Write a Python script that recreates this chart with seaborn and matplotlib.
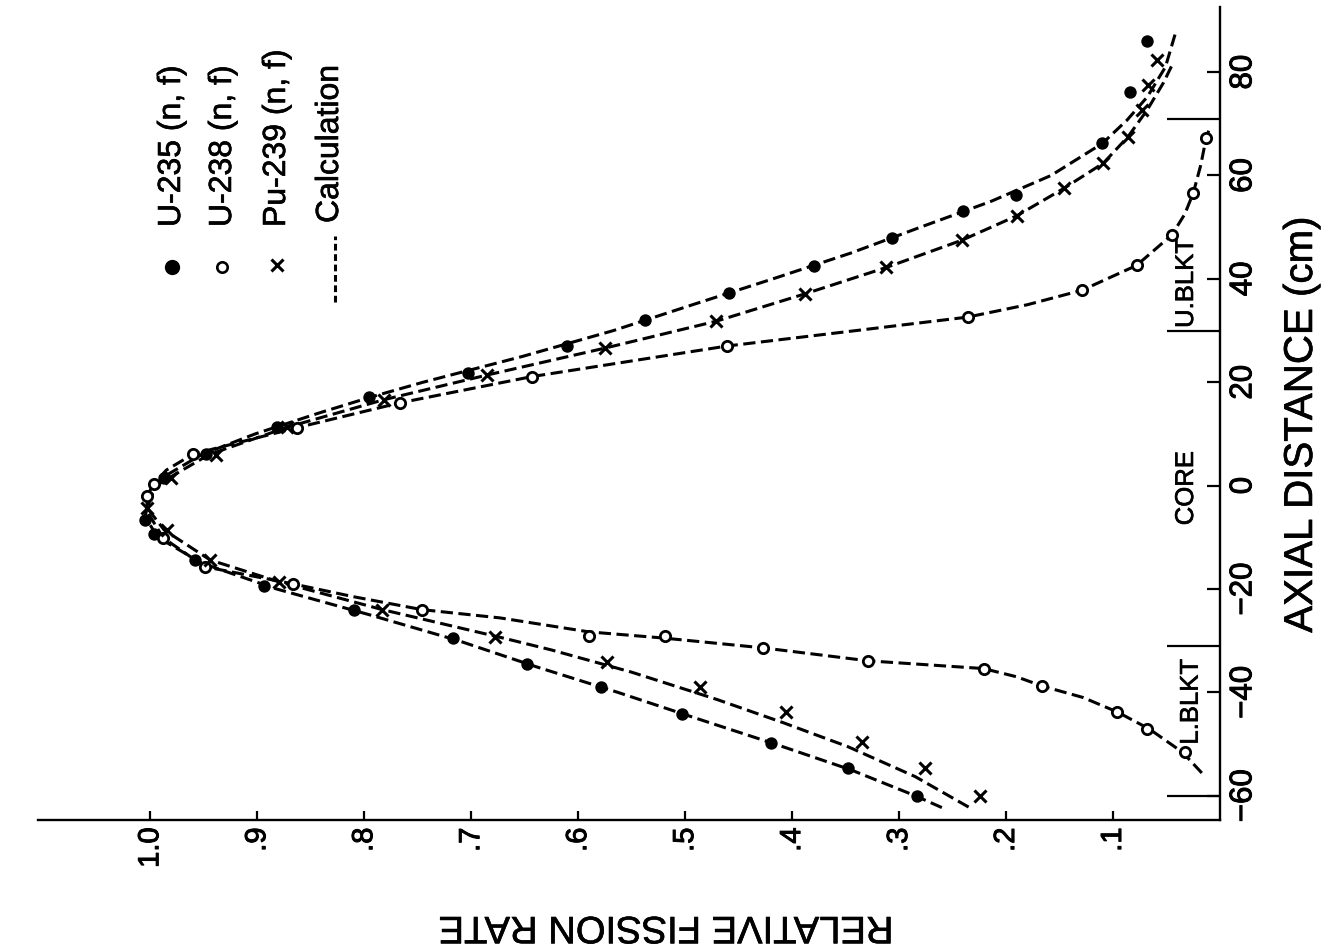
import matplotlib
matplotlib.use("Agg")
import matplotlib.pyplot as plt
from matplotlib.transforms import blended_transform_factory
import matplotlib.patheffects as pe
import seaborn as sns

# ---------------- data ----------------
# measured points: axial distance (cm) and relative fission rate
u235_axial = [-60.0, -54.6, -49.8, -44.1, -38.9, -34.5, -29.5, -24.0, -19.4, -14.4, -9.3, -6.6,
              1.5, 6.1, 11.4, 17.1, 21.8, 27.0, 32.1, 37.3, 42.4, 47.9, 53.1, 56.2, 66.2, 76.1, 86.0]
u235_rate = [0.283, 0.348, 0.420, 0.503, 0.579, 0.648, 0.717, 0.810, 0.894, 0.958, 0.997, 1.005,
             0.987, 0.948, 0.882, 0.796, 0.703, 0.610, 0.538, 0.459, 0.380, 0.307, 0.240, 0.191, 0.110, 0.084, 0.068]

u238_axial = [-51.6, -47.1, -43.8, -38.8, -35.4, -33.9, -31.4, -29.1, -29.1, -24.0, -19.0, -15.7, -10.1,
              -2.0, 0.3, 6.1, 11.2, 16.0, 21.1, 27.0, 32.6, 37.8, 42.6, 48.5, 56.6, 67.2]
u238_rate = [0.033, 0.068, 0.096, 0.166, 0.221, 0.329, 0.427, 0.519, 0.590, 0.746, 0.867, 0.949, 0.988,
             1.003, 0.997, 0.960, 0.863, 0.767, 0.643, 0.461, 0.236, 0.129, 0.078, 0.045, 0.025, 0.013]

pu239_axial = [-60.0, -54.6, -49.6, -43.8, -38.9, -34.1, -29.2, -24.0, -18.6, -14.4, -8.6, -4.3,
               1.5, 6.0, 11.3, 16.6, 21.4, 26.6, 31.8, 37.1, 42.2, 47.5, 52.2, 57.5, 62.4, 67.5, 72.7, 77.5, 82.3]
pu239_rate = [0.224, 0.276, 0.335, 0.406, 0.486, 0.573, 0.678, 0.783, 0.880, 0.944, 0.984, 1.003,
              0.981, 0.939, 0.872, 0.782, 0.685, 0.575, 0.471, 0.388, 0.312, 0.241, 0.190, 0.146, 0.109, 0.086, 0.073, 0.067, 0.059]

# calculated curves
calc_u235_axial = [-62.3, -60, -55, -50, -45, -40, -35, -30, -25, -20, -15, -10, -6, -2, 2, 6, 10, 14, 17,
                   20, 25, 30, 35, 40, 45, 50, 55, 60, 66.2, 70.7, 75.2, 81, 87.3]
calc_u235_rate = [0.260, 0.285, 0.345, 0.416, 0.490, 0.563, 0.640, 0.712, 0.795, 0.882, 0.952, 0.993, 1.005,
                  1.000, 0.985, 0.952, 0.902, 0.843, 0.796, 0.745, 0.652, 0.567, 0.493, 0.418, 0.345, 0.280,
                  0.214, 0.158, 0.110, 0.087, 0.068, 0.051, 0.042]

calc_pu239_axial = [-62.2, -56.3, -50.5, -45.9, -41.4, -36.1, -31.8, -29.6, -24, -18.6, -14.4, -8.6, -4.3, 0,
                    6.0, 11.3, 16.6, 21.4, 26.6, 31.8, 37.1, 42.2, 47.5, 52.2, 57.5, 62.4, 67.5, 72.7, 77.9, 81.7]
calc_pu239_rate = [0.235, 0.285, 0.348, 0.408, 0.470, 0.550, 0.625, 0.668, 0.783, 0.880, 0.944, 0.987,
                   1.003, 0.995, 0.945, 0.872, 0.782, 0.685, 0.575, 0.471, 0.388, 0.312, 0.241, 0.190, 0.146,
                   0.109, 0.086, 0.068, 0.053, 0.044]

calc_u238_axial = [-55.6, -51.6, -47.1, -43.8, -41, -38.8, -37, -35.4, -33.9, -31.4, -29.5, -28.3, -25.6, -24.0,
                   -21.5, -19.0, -15.7, -10.1, -5, -2, 0.3, 3, 6.1, 11.2, 16.0, 21.1, 27.0, 30, 32.6, 35, 37.8,
                   42.6, 48.5, 52.5, 56.6, 62, 67.2, 69.6]
calc_u238_rate = [0.017, 0.035, 0.066, 0.096, 0.128, 0.166, 0.190, 0.221, 0.329, 0.427, 0.520, 0.590, 0.673, 0.746,
                  0.810, 0.867, 0.949, 0.988, 1.003, 1.003, 0.997, 0.985, 0.960, 0.863, 0.767, 0.643, 0.461, 0.340,
                  0.236, 0.180, 0.129, 0.078, 0.045, 0.033, 0.025, 0.018, 0.013, 0.009]

rate_ticks = [1.0, 0.9, 0.8, 0.7, 0.6, 0.5, 0.4, 0.3, 0.2, 0.1]
rate_tick_labels = ["1.0", ".9", ".8", ".7", ".6", ".5", ".4", ".3", ".2", ".1"]
axial_ticks = [-60, -40, -20, 0, 20, 40, 60, 80]
axial_tick_labels = ["\u221260", "\u221240", "\u221220", "0", "20", "40", "60", "80"]
region_bounds = [-60, -31, 30, 71]
region_names = ["L.BLKT", "CORE", "U.BLKT"]
legend_labels = ["U-235 (n, f)", "U-238 (n, f)", "Pu-239 (n, f)", "Calculation"]

# ---------------- figure ----------------
sns.set_theme(style="white")
plt.rcParams['font.family'] = ['Liberation Sans', 'DejaVu Sans']
plt.rcParams['axes.unicode_minus'] = True

W, H = 1335, 949
fig = plt.figure(figsize=(W / 100, H / 100), dpi=100)
ax = fig.add_axes([38 / W, 1 - 820 / H, (1220 - 38) / W, (820 - 7) / H])
ax.set_facecolor("white")

heavy = [pe.withStroke(linewidth=0.7, foreground="black")]
medium = [pe.withStroke(linewidth=0.45, foreground="black")]


def fx(px):
    return px / W


def fy(py):
    return 1 - py / H


dash = [4.0, 1.8]
for r, a in [(calc_u235_rate, calc_u235_axial), (calc_pu239_rate, calc_pu239_axial),
             (calc_u238_rate, calc_u238_axial)]:
    sns.lineplot(x=r, y=a, sort=False, estimator=None, color="black", linewidth=2.2, ax=ax)
    ax.lines[-1].set_dashes(dash)

sns.scatterplot(x=u235_rate, y=u235_axial, marker="o", s=80, color="black", edgecolor="black",
                linewidth=0, ax=ax, zorder=4)
sns.scatterplot(x=u238_rate, y=u238_axial, marker="o", s=55, color="white", edgecolor="black",
                linewidth=2.0, ax=ax, zorder=4)
sns.scatterplot(x=pu239_rate, y=pu239_axial, marker="x", s=75, color="black", edgecolor="black",
                linewidth=2.2, ax=ax, zorder=4)

ax.set_xlim(1.105, 0)
ax.set_ylim(-64.7, 92.6)

for side in ["left", "top"]:
    ax.spines[side].set_visible(False)
for side in ["bottom", "right"]:
    ax.spines[side].set_visible(True)
    ax.spines[side].set_color("black")
    ax.spines[side].set_linewidth(1.7)

ax.set_xticks(rate_ticks)
ax.set_xticklabels(rate_tick_labels, rotation=90)
ax.yaxis.tick_right()
ax.set_yticks(axial_ticks)
ax.set_yticklabels(axial_tick_labels, rotation=90, va="center")
ax.tick_params(axis="x", direction="in", length=6.5, width=1.6, pad=5.5, labelsize=21,
               colors="black", bottom=True, top=False)
ax.tick_params(axis="y", direction="in", length=9.5, width=1.6, pad=6, labelsize=22.5,
               colors="black", right=True, left=False)
for lab in ax.get_xticklabels() + ax.get_yticklabels():
    lab.set_path_effects(heavy)
ax.set_xlabel("")
ax.set_ylabel("")

trans = blended_transform_factory(ax.transAxes, ax.transData)
ax.hlines(region_bounds, 1 - 53 / 1182, 1, transform=trans, color="black", linewidth=1.6, zorder=3)

lab_x = 1 - 34 / 1182
t1 = ax.text(lab_x + 0.004, region_bounds[1] - 2.5, region_names[0], rotation=90, ha="center", va="top",
             fontsize=18.5, transform=trans, color="black")
t2 = ax.text(lab_x, (region_bounds[1] + region_bounds[2]) / 2, region_names[1], rotation=90, ha="center",
             va="center", fontsize=18.5, transform=trans, color="black")
t3 = ax.text(lab_x, region_bounds[2] + 0.5, region_names[2], rotation=90, ha="center", va="bottom",
             fontsize=18.5, transform=trans, color="black")
for t in (t1, t2, t3):
    t.set_path_effects(medium)

# legend (rotated, drawn by hand)
ax.plot([fx(172)], [fy(267)], marker="o", ms=10, color="black", transform=fig.transFigure, clip_on=False)
ax.plot([fx(222)], [fy(267)], marker="o", ms=7.5, mfc="white", mec="black", mew=1.9,
        transform=fig.transFigure, clip_on=False)
ax.plot([fx(277)], [fy(265)], marker="x", ms=8, color="black", mew=2.2, transform=fig.transFigure,
        clip_on=False)
leg_line = ax.plot([fx(335), fx(335)], [fy(302), fy(236)], color="black", linewidth=2.2,
                   transform=fig.transFigure, clip_on=False)[0]
leg_line.set_dashes([2.2, 1.2])
for xpx, ypx, txt in zip([172, 223, 277, 330], [227, 227, 227, 223], legend_labels):
    fig.text(fx(xpx), fy(ypx), txt, rotation=90, ha="center", va="bottom", fontsize=23, color="black",
             path_effects=medium)

fig.text(fx(666), fy(927), "RELATIVE FISSION RATE", rotation=180, ha="center", va="center",
         fontsize=27.5, color="black", path_effects=medium)
fig.text(fx(1301), fy(425), "AXIAL DISTANCE (cm)", rotation=90, ha="center", va="center",
         fontsize=29, color="black", path_effects=medium)

fig.savefig("out.png", dpi=100, facecolor="white")
